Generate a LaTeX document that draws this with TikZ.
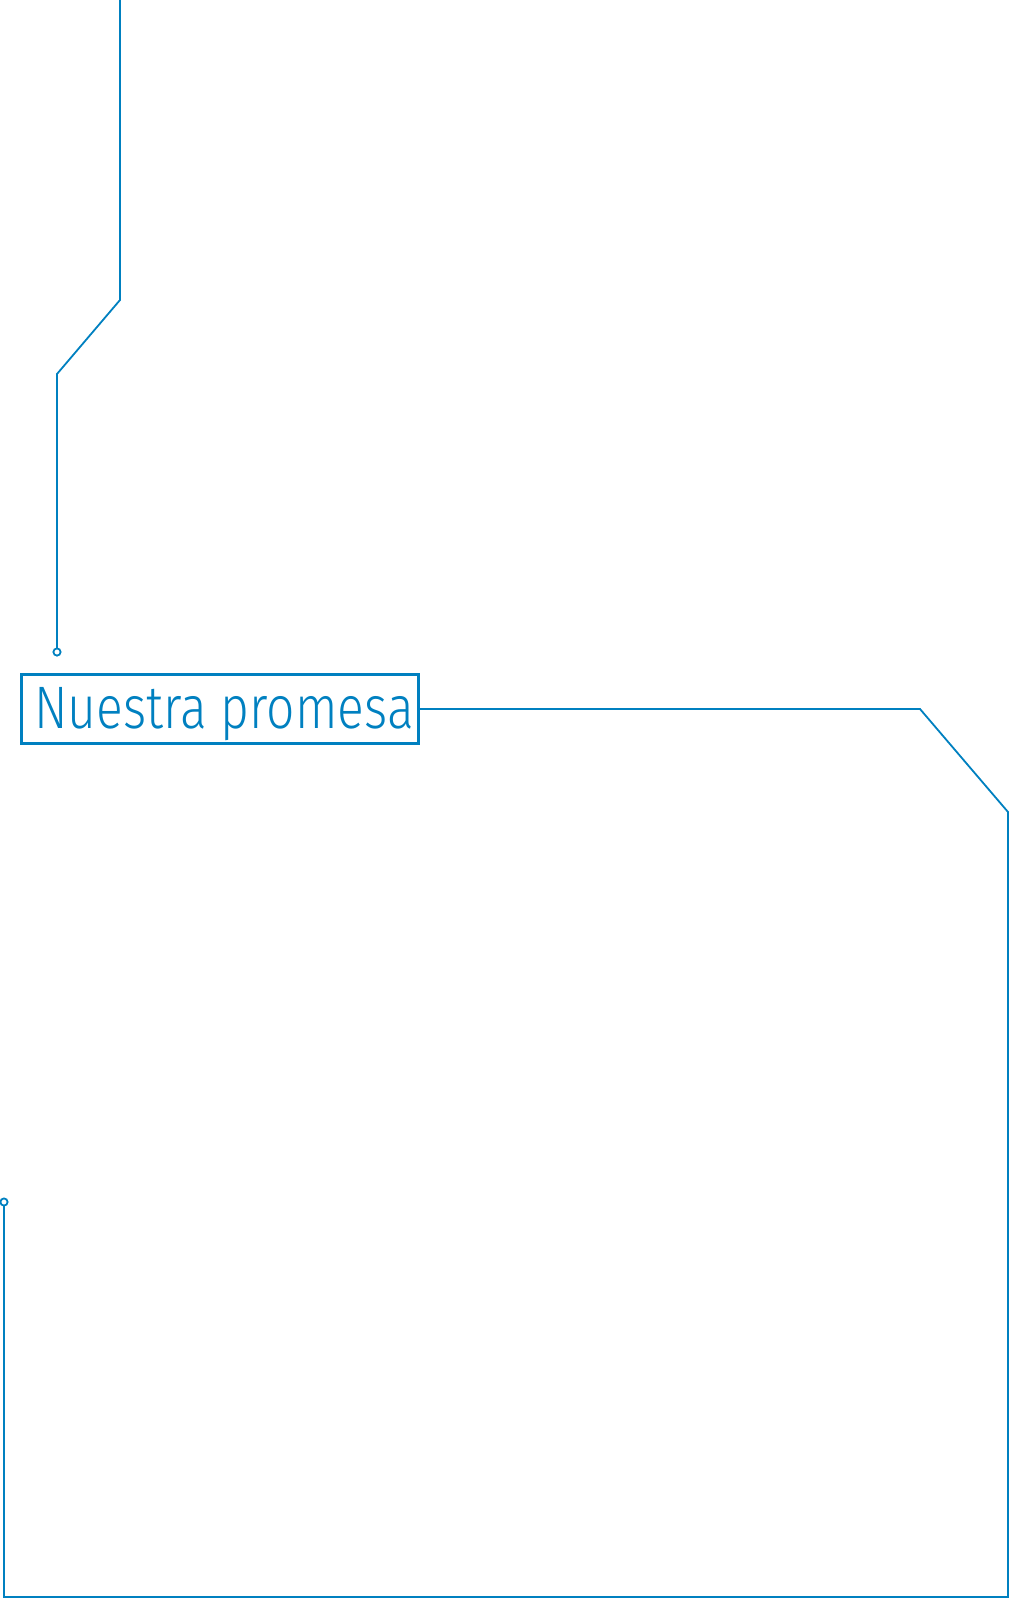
\documentclass[tikz,border=0pt]{standalone}
\usepackage{fontspec}
\newfontfamily\promfont{Fira Sans Light}
\usepackage{tikz}
\definecolor{promblue}{RGB}{0,128,192}

\begin{document}
\begin{tikzpicture}[x=0.5pt, y=-0.5pt,
    wire/.style = {promblue, line width=0.9pt},
    pin/.style = {promblue, line width=0.9pt, fill=white},
    titlebox/.style = {draw=promblue, line width=1.5pt, text=promblue,
      minimum width=198.5pt, minimum height=34.5pt, inner sep=0pt,
      font=\promfont\fontsize{30}{30}\selectfont}]
    \useasboundingbox (0,0) rectangle (1030,1600);

    \node[titlebox] (promesa) at (220,709)
      {\hspace{4pt}\raisebox{-2.5pt}[\height][\depth]{\scalebox{0.83}[1]{Nuestra promesa}}};

    \coordinate (topstart) at (120,0);
    \coordinate (toppin) at (57,652);
    \coordinate (lowpin) at (4,1202);

    % upper lead into the box
    \draw[wire] (topstart) -- (120,300) -- (57,374) -- ([yshift=-2pt]toppin);
    \draw[pin] (toppin) circle (1.8pt);

    % lead round the page
    \draw[wire] (promesa.east) -- (920,709) -- (1008,812) -- (1008,1597)
      -- (4,1597) -- ([yshift=2pt]lowpin);
    \draw[pin] (lowpin) circle (1.8pt);
  \end{tikzpicture}
\end{document}
